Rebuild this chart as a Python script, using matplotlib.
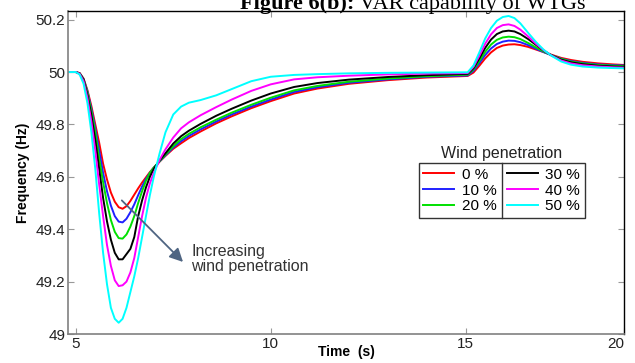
import matplotlib
matplotlib.use("Agg")
import matplotlib.pyplot as plt
from matplotlib.lines import Line2D

plt.rcParams['font.family'] = ['Liberation Sans', 'DejaVu Sans']

# ---------------- data ----------------
time = [4.8, 5.0, 5.1, 5.2, 5.3, 5.4, 5.5, 5.6, 5.7, 5.8, 5.9, 6.0, 6.1, 6.2,
        6.3, 6.4, 6.5, 6.6, 6.7, 6.8, 6.9, 7.0, 7.15, 7.3, 7.5, 7.7, 7.9, 8.2,
        8.6, 9.0, 9.5, 10.0, 10.6, 11.2, 12.0, 13.0, 14.0,
        15.05, 15.2, 15.35, 15.5, 15.65, 15.8, 15.95, 16.1, 16.25, 16.4, 16.6,
        16.8, 17.0, 17.2, 17.45, 17.7, 18.0, 18.4, 18.8, 19.06]

freq_0 = [50.0, 50.0, 49.996, 49.975, 49.93, 49.87, 49.80, 49.73, 49.65, 49.59,
          49.54, 49.505, 49.484, 49.478, 49.488, 49.508, 49.532, 49.556, 49.578,
          49.598, 49.618, 49.635, 49.658, 49.680, 49.707, 49.728, 49.748, 49.773,
          49.804, 49.831, 49.862, 49.889, 49.918, 49.937, 49.955, 49.969, 49.979,
          49.985, 49.998, 50.024, 50.052, 50.075, 50.092, 50.101, 50.105, 50.106,
          50.103, 50.096, 50.086, 50.076, 50.066, 50.054, 50.046, 50.039, 50.033,
          50.029, 50.027]
freq_10 = [50.0, 50.0, 49.995, 49.973, 49.925, 49.86, 49.785, 49.70, 49.615, 49.545,
           49.49, 49.45, 49.429, 49.426, 49.44, 49.465, 49.495, 49.53, 49.563,
           49.592, 49.615, 49.635, 49.659, 49.682, 49.712, 49.736, 49.756, 49.781,
           49.811, 49.838, 49.868, 49.895, 49.924, 49.942, 49.959, 49.972, 49.982,
           49.987, 50.005, 50.034, 50.065, 50.090, 50.107, 50.116, 50.120, 50.119,
           50.114, 50.103, 50.089, 50.076, 50.064, 50.051, 50.042, 50.035, 50.029,
           50.026, 50.025]
freq_20 = [50.0, 50.0, 49.995, 49.972, 49.92, 49.85, 49.77, 49.67, 49.58, 49.50,
           49.435, 49.39, 49.366, 49.364, 49.38, 49.41, 49.45, 49.50, 49.545,
           49.585, 49.615, 49.635, 49.66, 49.685, 49.717, 49.744, 49.764, 49.789,
           49.818, 49.845, 49.875, 49.902, 49.93, 49.947, 49.963, 49.975, 49.984,
           49.990, 50.010, 50.042, 50.077, 50.105, 50.123, 50.132, 50.135, 50.133,
           50.126, 50.111, 50.094, 50.078, 50.064, 50.050, 50.040, 50.033, 50.027,
           50.024, 50.023]
freq_30 = [50.0, 50.0, 49.994, 49.97, 49.91, 49.835, 49.74, 49.63, 49.52, 49.43,
           49.36, 49.31, 49.285, 49.285, 49.305, 49.325, 49.37, 49.45, 49.51,
           49.56, 49.60, 49.63, 49.663, 49.69, 49.727, 49.755, 49.776, 49.802,
           49.833, 49.860, 49.891, 49.918, 49.943, 49.958, 49.971, 49.981, 49.988,
           49.993, 50.015, 50.052, 50.092, 50.124, 50.145, 50.155, 50.158, 50.155,
           50.145, 50.126, 50.104, 50.082, 50.064, 50.047, 50.037, 50.030, 50.024,
           50.021, 50.020]
freq_40 = [50.0, 50.0, 49.993, 49.965, 49.90, 49.81, 49.70, 49.57, 49.45, 49.34,
           49.26, 49.205, 49.183, 49.186, 49.20, 49.235, 49.29, 49.37, 49.45,
           49.52, 49.575, 49.615, 49.665, 49.705, 49.750, 49.785, 49.808, 49.835,
           49.866, 49.895, 49.928, 49.953, 49.972, 49.980, 49.986, 49.991, 49.994,
           49.996, 50.020, 50.062, 50.108, 50.144, 50.168, 50.179, 50.182, 50.176,
           50.162, 50.136, 50.108, 50.083, 50.063, 50.044, 50.033, 50.026, 50.021,
           50.018, 50.017]
freq_50 = [50.0, 50.0, 49.99, 49.955, 49.88, 49.77, 49.63, 49.46, 49.31, 49.19,
           49.10, 49.058, 49.043, 49.058, 49.10, 49.16, 49.22, 49.29, 49.37,
           49.45, 49.53, 49.60, 49.69, 49.77, 49.838, 49.868, 49.883, 49.893,
           49.911, 49.935, 49.965, 49.982, 49.989, 49.992, 49.995, 49.997, 49.998,
           49.999, 50.025, 50.075, 50.128, 50.168, 50.196, 50.210, 50.214, 50.206,
           50.186, 50.150, 50.115, 50.085, 50.062, 50.040, 50.028, 50.021, 50.017,
           50.015, 50.014]

series = [freq_0, freq_10, freq_20, freq_30, freq_40, freq_50]
labels = ['0 %', '10 %', '20 %', '30 %', '40 %', '50 %']
colors = ['#ff0000', '#2020ff', '#00e000', '#000000', '#ff00ff', '#00ffff']

xticks = [5, 10, 15, 19.06]
xtick_labels = ['5', '10', '15', '20']
yticks = [49, 49.2, 49.4, 49.6, 49.8, 50, 50.2]
ytick_labels = ['49', '49.2', '49.4', '49.6', '49.8', '50', '50.2']

# ---------------- figure ----------------
W, H = 635, 363
fig = plt.figure(figsize=(W / 100, H / 100), dpi=100)
ax = fig.add_axes([68 / W, 1 - 334 / H, (624 - 68) / W, (334 - 11) / H])

for vals, lab, col in zip(series, labels, colors):
    ax.plot(time, vals, color=col, lw=1.4, label=lab)

ax.set_xlim(4.8, 19.06)
ax.set_ylim(49.0, 50.233)
ax.set_xticks(xticks, xtick_labels)
ax.set_yticks(yticks, ytick_labels)
ax.tick_params(direction='in', length=4, width=0.8, top=True, right=True,
               labelsize=11, colors='#999999', labelcolor='#222222', pad=2)
xl = ax.get_xticklabels()
xl[-1].set_horizontalalignment('right')

for s in ['left', 'bottom']:
    ax.spines[s].set_color('#808080')
    ax.spines[s].set_linewidth(1.2)
for s in ['top', 'right']:
    ax.spines[s].set_color('#000000')
    ax.spines[s].set_linewidth(1.0)

ax.set_xlabel('Time  (s)', fontsize=10, fontweight='bold', labelpad=-4)
ax.set_ylabel('Frequency (Hz)', fontsize=10, fontweight='bold', labelpad=4)

# annotation arrow and text
ax.annotate('', xy=(7.75, 49.275), xytext=(6.18, 49.51),
            arrowprops=dict(arrowstyle='-|>,head_length=0.8,head_width=0.4',
                            color='#4f6582', lw=1.3, shrinkA=0, shrinkB=0))
ax.text(7.96, 49.345, 'Increasing\nwind penetration', fontsize=11.5,
        color='#333333', va='top', ha='left', linespacing=1.0)

# legend
leg = ax.legend(ncol=2, loc='upper left', bbox_to_anchor=(0.631, 0.529),
                borderaxespad=0, fontsize=11, frameon=True, fancybox=False,
                edgecolor='#333333', framealpha=1, handlelength=2.0,
                handletextpad=0.5, labelspacing=0.12, columnspacing=0.7,
                borderpad=0.3)
leg.get_frame().set_linewidth(1.0)

fig.canvas.draw()
r = fig.canvas.get_renderer()
bb = leg.get_frame().get_window_extent(r)
inv = fig.transFigure.inverted()
(x0, y0), (x1, y1) = inv.transform([(bb.x0, bb.y0), (bb.x1, bb.y1)])
xm = (x0 + x1) / 2
fig.add_artist(Line2D([xm, xm], [y0, y1], transform=fig.transFigure,
                      color='#333333', lw=1.0))
fig.text(xm, y1 + 2 / H, 'Wind penetration', ha='center', va='bottom',
         fontsize=11.5, color='#222222')

# clipped caption at top
t1 = fig.text(240 / W, 1 - 9 / H, 'Figure 6(b):', fontsize=16,
              fontweight='bold', family='Liberation Serif', va='baseline')
fig.canvas.draw()
b1 = t1.get_window_extent(fig.canvas.get_renderer())
fig.text(b1.x1 / W, 1 - 9 / H, ' VAR capability of WTGs', fontsize=16,
         family='Liberation Serif', va='baseline')

fig.savefig('out.png', dpi=100)
